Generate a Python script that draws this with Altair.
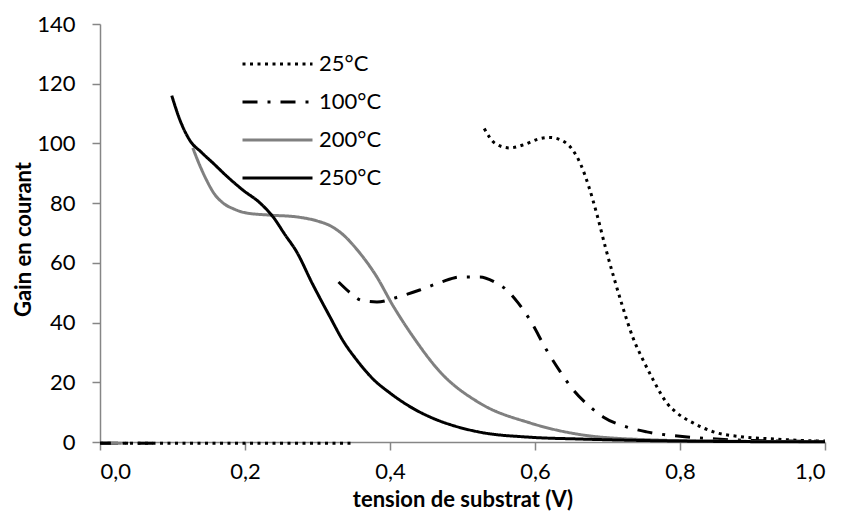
import altair as alt
import pandas as pd

series = ["25°C", "100°C", "200°C", "250°C"]

x25 = [0.53, 0.545, 0.565, 0.585, 0.605, 0.62, 0.637, 0.652, 0.663, 0.674, 0.686, 0.697, 0.709, 0.72, 0.735, 0.75, 0.763, 0.782, 0.796, 0.818, 0.846, 0.887, 0.93, 0.96, 1.0]
y25 = [105, 100, 98.5, 99.6, 101.5, 102, 101, 97.8, 93, 85.7, 75.7, 65.3, 54.9, 46, 35, 27, 20.8, 13, 9.7, 6.4, 3.4, 1.7, 1.0, 0.6, 0.3]

x100 = [0.329, 0.345, 0.36, 0.382, 0.41, 0.441, 0.47, 0.497, 0.524, 0.545, 0.561, 0.577, 0.593, 0.616, 0.635, 0.653, 0.675, 0.694, 0.727, 0.754, 0.81, 0.85, 0.9, 1.0]
y100 = [53.6, 50, 47.5, 46.9, 48.5, 50.9, 53.5, 55.3, 55.3, 53.5, 50.9, 46.5, 40.9, 30.8, 23.5, 17.4, 12, 8.4, 5, 3.4, 1.7, 1.0, 0.5, 0.2]

x200 = [0.128, 0.137, 0.147, 0.158, 0.170, 0.185, 0.202, 0.234, 0.271, 0.30, 0.317, 0.335, 0.356, 0.38, 0.405, 0.432, 0.469, 0.524, 0.593, 0.662, 0.75, 0.85, 1.0]
y200 = [98.5, 93, 87.7, 83, 80, 78, 76.7, 76, 75.4, 74, 72.5, 69.5, 64, 56, 45.3, 35.2, 23.5, 13, 6.4, 2.5, 0.8, 0.3, 0.1]

x250 = [0.099, 0.11, 0.124, 0.14, 0.156, 0.175, 0.197, 0.221, 0.239, 0.255, 0.271, 0.293, 0.317, 0.335, 0.354, 0.377, 0.4, 0.43, 0.455, 0.49, 0.524, 0.593, 0.662, 0.75, 0.85, 1.0]
y250 = [116, 108, 101, 97, 93.4, 89, 84.4, 80, 75.3, 69.5, 63.8, 53, 42, 34, 27.5, 21, 16.4, 11.5, 8.4, 5.3, 3.3, 1.6, 1.0, 0.5, 0.2, 0.05]

# low-voltage segments lying just under zero
zero_end = [0.35, 0.08, 0.03, 0.015]
zero_val = -0.4

x_ticks = [0.0, 0.2, 0.4, 0.6, 0.8, 1.0]
y_ticks = [0, 20, 40, 60, 80, 100, 120, 140]

rows = []
for name, xs, ys in zip(series, [x25, x100, x200, x250], [y25, y100, y200, y250]):
    for x, y in zip(xs, ys):
        rows.append({"serie": name, "seg": "main", "v": x, "g": y})
for name, xe in zip(series, zero_end):
    rows.append({"serie": name, "seg": "zero", "v": 0.0, "g": zero_val})
    rows.append({"serie": name, "seg": "zero", "v": xe, "g": zero_val})
df = pd.DataFrame(rows)

FONT = "Lato"
FS = 22
TFS = 22

chart = alt.Chart(df).mark_line(strokeWidth=3, interpolate="monotone").encode(
    x=alt.X("v:Q", scale=alt.Scale(domain=[0, 1], nice=False),
            axis=alt.Axis(values=x_ticks, title="tension de substrat (V)",
                          labelExpr="replace(format(datum.value, '.1f'), '.', ',')",
                          labelPadding=11, titleY=64, titleBaseline="alphabetic")),
    y=alt.Y("g:Q", scale=alt.Scale(domain=[0, 140], nice=False),
            axis=alt.Axis(values=y_ticks, title="Gain en courant", labelPadding=17,
                          titleX=-70, titleY=215, titleAngle=-90, titleBaseline="alphabetic")),
    color=alt.Color("serie:N", sort=series,
                    scale=alt.Scale(domain=series, range=["black", "black", "#808080", "black"]),
                    legend=alt.Legend(title=None, orient="none", legendX=141, legendY=28,
                                      symbolType="stroke", symbolSize=4900, symbolStrokeWidth=3,
                                      labelFontSize=FS, labelFont=FONT, labelColor="black",
                                      clipHeight=24, rowPadding=14, labelOffset=5)),
    strokeDash=alt.StrokeDash("serie:N", sort=series,
                              scale=alt.Scale(domain=series, range=[[3, 4.5], [15, 10, 3, 10], [1, 0], [1, 0]]),
                              legend=None),
    detail="seg:N",
    order=alt.Order("v:Q"),
).properties(
    width=725, height=418,
    autosize=alt.AutoSizeParams(type="none"),
    padding={"left": 92, "top": 16, "right": 10, "bottom": 70},
).configure_view(stroke=None).configure_axis(
    grid=False, domainColor="#868686", tickColor="#868686", domainWidth=1.5, tickWidth=1.5,
    tickSize=8, labelFont=FONT, labelFontSize=FS, labelColor="black",
    titleFont=FONT, titleFontSize=TFS, titleFontWeight="bold", titleColor="black",
)

chart.save("out.html", embed_options={"renderer": "svg", "actions": False})
